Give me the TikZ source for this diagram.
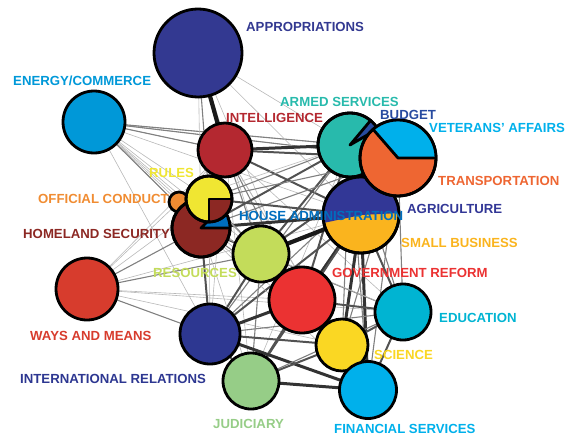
\documentclass[tikz,border=0pt]{standalone}
\usepackage{fontspec}
\setmainfont{Liberation Sans}
\pgfdeclarelayer{background}
\pgfsetlayers{background,main}
\definecolor{cApp}{RGB}{51,57,145}
\definecolor{cEne}{RGB}{0,152,216}
\definecolor{cInt}{RGB}{180,40,48}
\definecolor{cArm}{RGB}{40,186,172}
\definecolor{cBud}{RGB}{40,75,160}
\definecolor{cVet}{RGB}{0,176,235}
\definecolor{cTra}{RGB}{238,102,50}
\definecolor{cAgr}{RGB}{50,55,150}
\definecolor{cHad}{RGB}{0,110,190}
\definecolor{cSmb}{RGB}{250,180,30}
\definecolor{cRul}{RGB}{240,230,50}
\definecolor{cOff}{RGB}{240,140,50}
\definecolor{cHom}{RGB}{140,40,35}
\definecolor{cRes}{RGB}{195,220,90}
\definecolor{cGov}{RGB}{235,50,50}
\definecolor{cWam}{RGB}{215,60,45}
\definecolor{cEdu}{RGB}{0,180,210}
\definecolor{cSci}{RGB}{250,215,35}
\definecolor{cFin}{RGB}{0,176,235}
\definecolor{cIr}{RGB}{45,55,145}
\definecolor{cJud}{RGB}{150,205,135}
\begin{document}
\begin{tikzpicture}[x=1pt,y=-1pt,
  cn/.style={circle, draw=black, line width=2.8pt, inner sep=0pt, outer sep=0pt},
  ol/.style={draw=black, line width=2.8pt, line join=round},
  ea/.style={draw=black!28, line width=0.6pt},
  eb/.style={draw=black!50, line width=1.1pt},
  ec/.style={draw=black!68, line width=2pt},
  ed/.style={draw=black!80, line width=3pt},
  ee/.style={draw=black!90, line width=4.2pt},
  lab/.style={anchor=base west, inner sep=0pt, font=\bfseries\fontsize{13.2}{14}\selectfont}]
\useasboundingbox (0,0) rectangle (567,436);
% nodes
\node[cn, fill=cApp, minimum size=88pt] (app) at (198,53) {};
\node[cn, fill=cEne, minimum size=62pt] (ene) at (94,122) {};
\node[cn, fill=cInt, minimum size=54pt] (int) at (225,150) {};
\node[cn, fill=cOff, minimum size=20pt] (off) at (179,202) {};
\node[cn, fill=cHom, minimum size=58pt] (hom) at (201,228) {};
\fill[cHad] (hom.center) -- ++(0:29) arc[start angle=0, end angle=-45, radius=29] -- cycle;
\draw[ol] (hom.center) circle[radius=29];
\draw[ol] ([shift={(0:29)}]hom.center) -- (hom.center) -- ++(-45:29);
\node[cn, fill=cRul, minimum size=46pt] (rul) at (209,199) {};
\fill[cHom] (rul.center) -- ++(0:23) arc[start angle=0, end angle=90, radius=23] -- cycle;
\draw[ol] (rul.center) circle[radius=23];
\draw[ol] ([shift={(0:23)}]rul.center) -- (rul.center) -- ++(90:23);
\node[cn, fill=cWam, minimum size=62pt] (wam) at (87,289) {};
\node[cn, fill=cArm, minimum size=64pt] (arm) at (350,145) {};
\fill[cBud] (arm.center) -- ++(-30:32) arc[start angle=-30, end angle=-50, radius=32] -- cycle;
\draw[ol] (arm.center) circle[radius=32];
\draw[ol] ([shift={(-30:32)}]arm.center) -- (arm.center) -- ++(-50:32);
\node[cn, fill=cSmb, minimum size=76pt] (agr) at (361,215) {};
\fill[cAgr] (agr.center) -- ++(-3:38) arc[start angle=-3, end angle=-192, radius=38] -- cycle;
\draw[ol] (agr.center) circle[radius=38];
\node[cn, fill=cTra, minimum size=76pt] (vet) at (398,158) {};
\fill[cVet] (vet.center) -- ++(0:38) arc[start angle=0, end angle=-131, radius=38] -- cycle;
\draw[ol] (vet.center) circle[radius=38];
\draw[ol] ([shift={(0:38)}]vet.center) -- (vet.center) -- ++(-131:38);
\node[cn, fill=cRes, minimum size=56pt] (res) at (261,254) {};
\node[cn, fill=cGov, minimum size=66pt] (gov) at (302,300) {};
\node[cn, fill=cIr, minimum size=60pt] (ir) at (210,334) {};
\node[cn, fill=cJud, minimum size=56pt] (jud) at (251,381) {};
\node[cn, fill=cSci, minimum size=52pt] (sci) at (342,345) {};
\node[cn, fill=cEdu, minimum size=56pt] (edu) at (403,312) {};
\node[cn, fill=cFin, minimum size=57pt] (fin) at (368,390) {};
% edges
\begin{pgfonlayer}{background}
\foreach \b in {int,arm,vet,rul,hom,res,agr,gov,ir,off,sci}{\draw[ea] (ene) -- (\b);}
\draw[eb] (ene) -- (int); \draw[eb] (ene) -- (arm); \draw[eb] (ene) -- (vet); \draw[eb] (ene) -- (hom);
\foreach \b in {arm,res,agr,gov,hom}{\draw[ea] (app) -- (\b);}
\draw[ee] (app) -- (int); \draw[eb] (app) -- (rul);
\foreach \b in {gov,agr,rul,int,sci,off,edu}{\draw[ea] (wam) -- (\b);}
\draw[eb] (wam) -- (hom); \draw[eb] (wam) -- (res); \draw[eb] (wam) -- (ir);
\draw[ed] (int) -- (arm); \draw[ec] (int) -- (vet); \draw[ec] (int) -- (agr);
\draw[eb] (int) -- (res); \draw[eb] (int) -- (gov); \draw[eb] (int) -- (hom);
\draw[ec] (int) -- (rul); \draw[ea] (int) -- (ir); \draw[ea] (int) -- (sci); \draw[ea] (int) -- (off);
\draw[ea] (int) -- (edu); \draw[ea] (int) -- (fin); \draw[ea] (int) -- (jud);
\draw[ed] (arm) -- (vet); \draw[ed] (arm) -- (agr); \draw[ec] (arm) -- (res); \draw[ec] (arm) -- (hom);
\draw[ec] (arm) -- (gov); \draw[eb] (arm) -- (rul); \draw[eb] (arm) -- (ir); \draw[eb] (arm) -- (sci);
\draw[eb] (arm) -- (edu); \draw[eb] (arm) -- (fin); \draw[ea] (arm) -- (jud); \draw[ea] (arm) -- (off);
\draw[ed] (vet) -- (agr); \draw[ec] (vet) -- (gov); \draw[ec] (vet) -- (res); \draw[eb] (vet) -- (hom);
\draw[eb] (vet) -- (ir); \draw[eb] (vet) -- (sci); \draw[eb] (vet) -- (edu); \draw[eb] (vet) -- (fin);
\draw[ea] (vet) -- (jud); \draw[eb] (vet) -- (rul);
\draw[ee] (agr) -- (res); \draw[ed] (agr) -- (hom); \draw[ec] (agr) -- (rul); \draw[ed] (agr) -- (gov);
\draw[ed] (agr) -- (sci); \draw[ed] (agr) -- (fin); \draw[ec] (agr) -- (edu); \draw[ec] (agr) -- (ir);
\draw[ec] (agr) -- (jud);
\draw[ec] (res) -- (hom); \draw[eb] (res) -- (rul); \draw[ec] (res) -- (gov); \draw[ec] (res) -- (ir);
\draw[eb] (res) -- (jud); \draw[eb] (res) -- (sci); \draw[eb] (res) -- (fin); \draw[eb] (res) -- (edu);
\draw[eb] (hom) -- (gov); \draw[ec] (hom) -- (ir); \draw[eb] (hom) -- (off); \draw[ea] (hom) -- (sci);
\draw[ea] (hom) -- (jud); \draw[ea] (hom) -- (fin); \draw[ea] (hom) -- (edu);
\draw[eb] (rul) -- (off); \draw[eb] (rul) -- (gov); \draw[ea] (rul) -- (ir); \draw[ea] (rul) -- (sci);
\draw[ed] (gov) -- (sci); \draw[ed] (gov) -- (fin); \draw[ec] (gov) -- (edu); \draw[ed] (gov) -- (ir);
\draw[ec] (gov) -- (jud);
\draw[ed] (ir) -- (fin); \draw[ec] (ir) -- (jud); \draw[ec] (ir) -- (sci); \draw[eb] (ir) -- (edu);
\draw[ed] (sci) -- (fin); \draw[ec] (sci) -- (edu); \draw[ec] (sci) -- (jud);
\draw[ed] (jud) -- (fin); \draw[eb] (jud) -- (edu);
\draw[ec] (edu) -- (fin);
\end{pgfonlayer}
% labels
\node[lab, text=cApp] (lapp) at (246,32) {APPROPRIATIONS};
\node[lab, text=cEne] (lene) at (13,85) {ENERGY/COMMERCE};
\node[lab, text=cArm] (larm) at (280,106) {ARMED SERVICES};
\node[lab, text=cInt] (lint) at (226,122) {INTELLIGENCE};
\node[lab, text=cBud] (lbud) at (380,119) {BUDGET};
\node[lab, text=cVet] (lvet) at (429,132) {VETERANS' AFFAIRS};
\node[lab, text=cRul] (lrul) at (149,177) {RULES};
\node[lab, text=cTra] (ltra) at (438,185) {TRANSPORTATION};
\node[lab, text=cOff] (loff) at (38,203) {OFFICIAL CONDUCT};
\node[lab, text=cAgr] (lagr) at (407,213) {AGRICULTURE};
\node[lab, text=cHad] (lhad) at (239,220) {HOUSE ADMINISTRATION};
\node[lab, text=cHom] (lhom) at (23,238) {HOMELAND SECURITY};
\node[lab, text=cSmb] (lsmb) at (401,247) {SMALL BUSINESS};
\node[lab, text=cRes] (lres) at (153,277) {RESOURCES};
\node[lab, text=cGov] (lgov) at (332,277) {GOVERNMENT REFORM};
\node[lab, text=cEdu] (ledu) at (439,322) {EDUCATION};
\node[lab, text=cWam] (lwam) at (30,340) {WAYS AND MEANS};
\node[lab, text=cSci] (lsci) at (374,359) {SCIENCE};
\node[lab, text=cIr] (lir) at (20,383) {INTERNATIONAL RELATIONS};
\node[lab, text=cJud] (ljud) at (213,428) {JUDICIARY};
\node[lab, text=cFin] (lfin) at (334,433) {FINANCIAL SERVICES};
\end{tikzpicture}
\end{document}
